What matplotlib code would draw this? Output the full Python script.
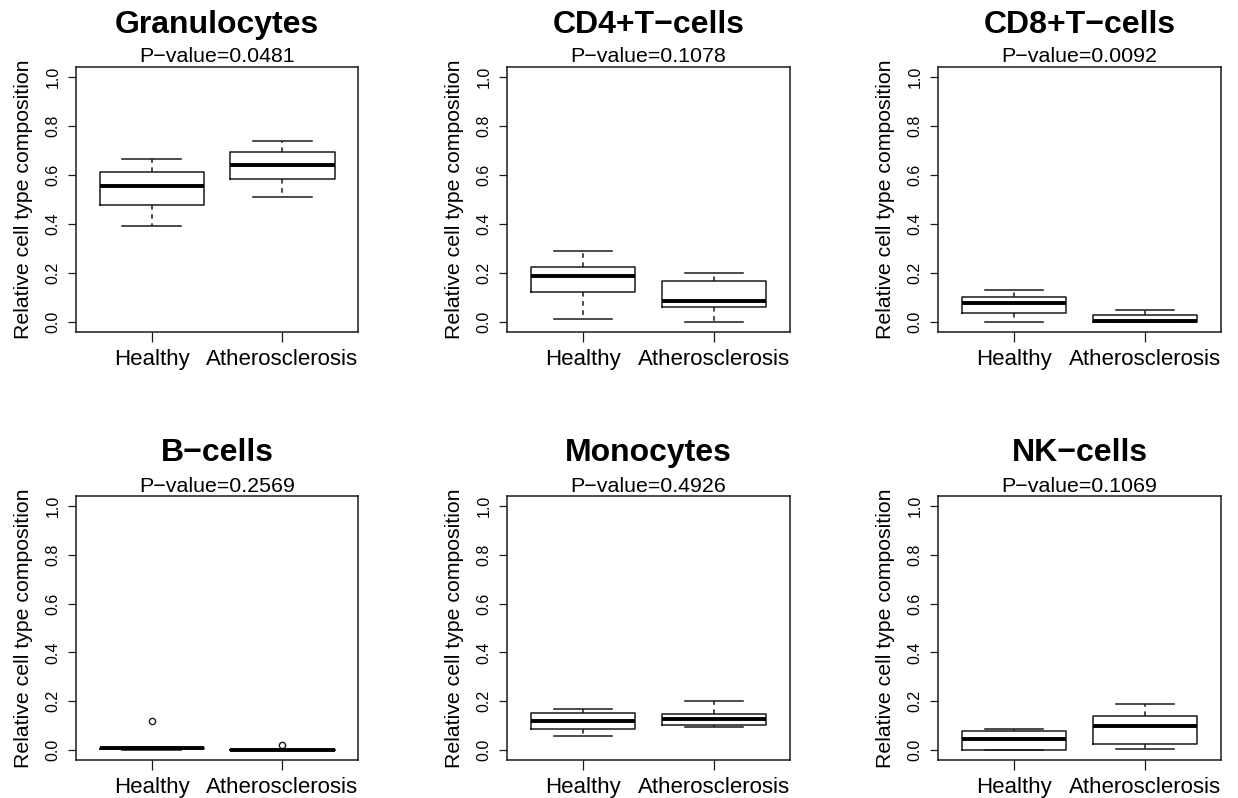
import matplotlib
matplotlib.use("Agg")
import matplotlib.pyplot as plt

plt.rcParams["font.family"] = ["Liberation Sans", "DejaVu Sans"]

groups = ["Healthy", "Atherosclerosis"]
cell_types = ["Granulocytes", "CD4+T\u2212cells", "CD8+T\u2212cells",
              "B\u2212cells", "Monocytes", "NK\u2212cells"]
p_values = ["0.0481", "0.1078", "0.0092", "0.2569", "0.4926", "0.1069"]

# Five-number summaries per cell type: [Healthy, Atherosclerosis]
whisker_low = [[0.393, 0.509], [0.011, 0.000], [0.000, 0.000],
               [0.000, 0.000], [0.060, 0.094], [0.000, 0.003]]
q1 = [[0.476, 0.585], [0.122, 0.061], [0.037, 0.000],
      [0.004, 0.000], [0.087, 0.102], [0.000, 0.026]]
median = [[0.555, 0.642], [0.188, 0.086], [0.080, 0.006],
          [0.008, 0.001], [0.121, 0.129], [0.045, 0.098]]
q3 = [[0.612, 0.695], [0.226, 0.169], [0.103, 0.031],
      [0.011, 0.002], [0.154, 0.150], [0.078, 0.141]]
whisker_high = [[0.664, 0.737], [0.291, 0.201], [0.131, 0.049],
                [0.012, 0.002], [0.169, 0.203], [0.088, 0.189]]
outliers = [[[], []], [[], []], [[], []],
            [[0.118], [0.020]], [[], []], [[], []]]

yticks = [0.0, 0.2, 0.4, 0.6, 0.8, 1.0]

W, H = 1238, 798
fig = plt.figure(figsize=(W / 100, H / 100), dpi=100)
fig.patch.set_facecolor("white")

lefts = [76, 507, 938]
rights = [358, 790, 1221]
tops = [67, 496]
bottoms = [332, 760]
title_y = [25, 453]
pval_y = [57, 486]

ink = "#1a1a1a"

for i, name in enumerate(cell_types):
    row, col = divmod(i, 3)
    l, r, t, b = lefts[col], rights[col], tops[row], bottoms[row]
    ax = fig.add_axes([l / W, 1 - b / H, (r - l) / W, (b - t) / H])

    stats = []
    for g in range(2):
        stats.append(dict(
            whislo=whisker_low[i][g], q1=q1[i][g], med=median[i][g],
            q3=q3[i][g], whishi=whisker_high[i][g], fliers=outliers[i][g],
            label=groups[g]))

    ax.bxp(stats, positions=[1, 2], widths=0.8, capwidths=0.45,
           boxprops=dict(color=ink, linewidth=1.1),
           medianprops=dict(color="black", linewidth=2.8,
                            solid_capstyle="butt"),
           whiskerprops=dict(color=ink, linewidth=1.1, linestyle=(0, (3, 3))),
           capprops=dict(color=ink, linewidth=1.1),
           flierprops=dict(marker="o", markersize=4.5, markerfacecolor="none",
                           markeredgecolor=ink, markeredgewidth=1.0),
           showfliers=True)

    ax.set_xlim(0.42, 2.58)
    ax.set_ylim(-0.04, 1.04)
    ax.set_xticks([1, 2])
    ax.set_xticklabels(groups, fontsize=16)
    ax.set_yticks(yticks)
    ax.set_yticklabels([f"{v:.1f}" for v in yticks], fontsize=11.5,
                       rotation=90, va="center")
    ax.tick_params(axis="x", length=7, width=0.9, color=ink, pad=5)
    ax.tick_params(axis="y", length=6, width=0.9, color=ink, pad=5)
    for sp in ax.spines.values():
        sp.set_color(ink)
        sp.set_linewidth(1.1)
    ax.set_ylabel("Relative cell type composition", fontsize=15.3, labelpad=9)

    cx = (l + r) / 2 / W
    fig.text(cx, 1 - title_y[row] / H, name, ha="center", va="center",
             fontsize=23, fontweight="bold")
    fig.text(cx, 1 - pval_y[row] / H, f"P\u2212value={p_values[i]}",
             ha="center", va="center", fontsize=15.4)

fig.savefig("out.png", dpi=100, facecolor="white")
